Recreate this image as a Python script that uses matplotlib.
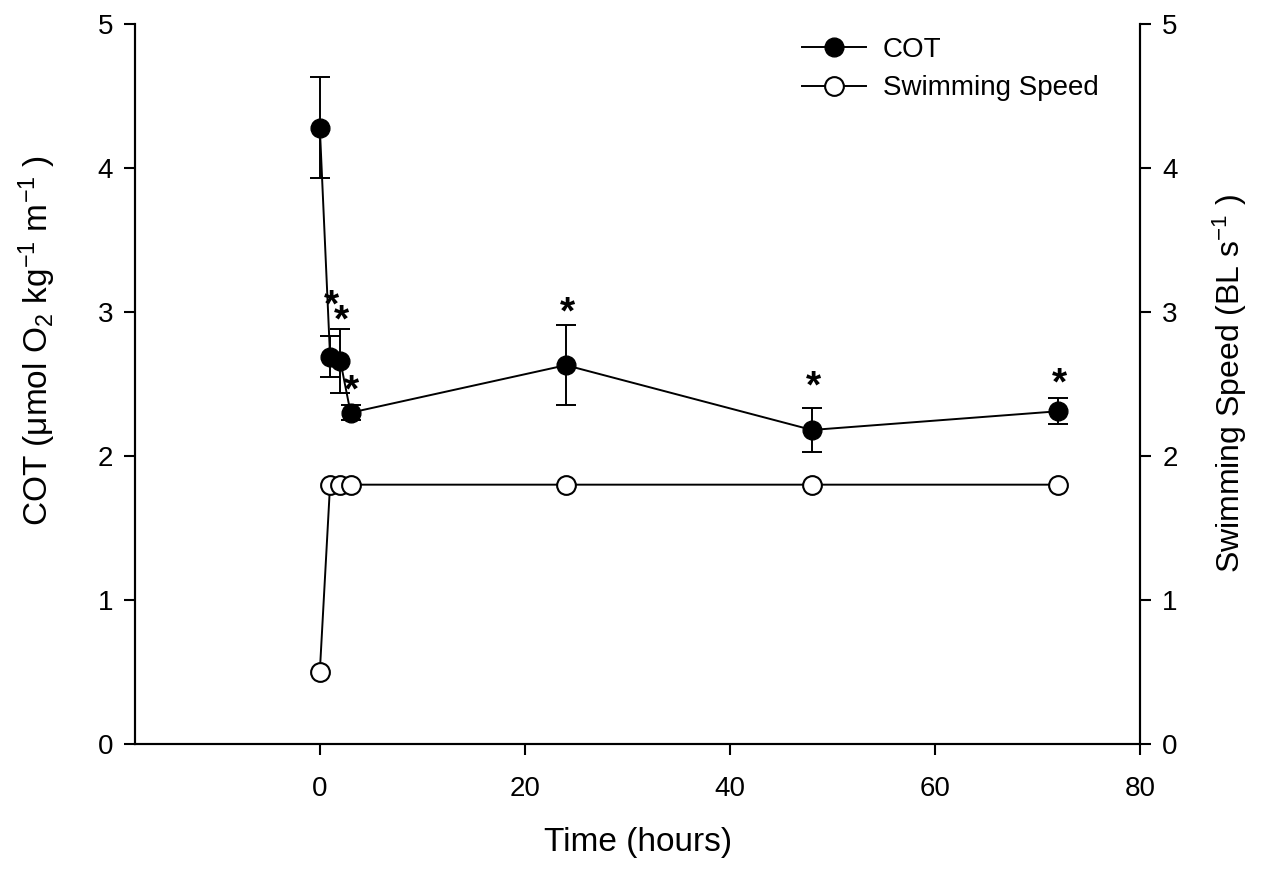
import matplotlib

matplotlib.use("Agg")
import matplotlib.pyplot as plt
from matplotlib.lines import Line2D

plt.rcParams.update({
    "font.family": ["Liberation Sans", "DejaVu Sans"],
    "mathtext.fontset": "custom",
    "mathtext.rm": "Liberation Sans",
    "mathtext.it": "Liberation Sans",
    "axes.linewidth": 1.5,
})

# --- data -------------------------------------------------------------------
time_h = [0, 1, 2, 3, 24, 48, 72]
cot_mean = [4.28, 2.69, 2.66, 2.30, 2.63, 2.18, 2.31]
cot_sem = [0.35, 0.145, 0.22, 0.05, 0.28, 0.15, 0.09]
cot_signif = [False, True, True, True, True, True, True]
swim_speed = [0.50, 1.80, 1.80, 1.80, 1.80, 1.80, 1.80]

x_ticks = [0, 20, 40, 60, 80]
y_ticks = [0, 1, 2, 3, 4, 5]

# gap (px) between upper error cap and the centre of each star
star_gap = [0, 42, 20, 27, 24, 33, 26]

fig = plt.figure(figsize=(12.64, 8.74), dpi=100)
ax = fig.add_axes([0.107, 0.149, 0.795, 0.8235])
ax2 = ax.twinx()

LW = 1.4
MS = 13.5
STAR_FS = 28

ax.errorbar(time_h, cot_mean, yerr=cot_sem, fmt="none", ecolor="black",
            elinewidth=LW, capsize=7.5, capthick=LW, zorder=3)
ax.plot(time_h, cot_mean, color="black", lw=LW, marker="o", ms=MS,
        mfc="black", mec="black", zorder=4)
ax2.plot(time_h, swim_speed, color="black", lw=LW, marker="o", ms=MS,
         mfc="white", mec="black", mew=1.5, zorder=4)

# significance stars above the upper error cap
star_mid = 0.58 * STAR_FS  # asterisk centre above baseline (pt)
for t, m, s, sig, gap in zip(time_h, cot_mean, cot_sem, cot_signif, star_gap):
    if sig:
        ax.annotate("*", (t, m + s), xytext=(1, gap * 0.72 - star_mid),
                    textcoords="offset points", ha="center", va="baseline",
                    fontsize=STAR_FS, fontweight="bold")

ax.set_xlim(-18, 80)
ax.set_ylim(0, 5)
ax2.set_ylim(0, 5)
ax.set_xticks(x_ticks)
ax.set_yticks(y_ticks)
ax2.set_yticks(y_ticks)

for a in (ax, ax2):
    a.spines["top"].set_visible(False)
    a.tick_params(direction="out", length=8, width=1.5, labelsize=20, pad=8)
ax.tick_params(axis="x", pad=15)

ax.set_xlabel("Time (hours)", fontsize=24, labelpad=18)
ax.set_ylabel(r"COT ($\mu$mol O$_2$ kg$^{-1}$ m$^{-1}$ )", fontsize=24)
ax.yaxis.set_label_coords(-0.077, 0.56)
ax2.set_ylabel(r"Swimming Speed (BL s$^{-1}$ )", fontsize=23, labelpad=24)

handles = [
    Line2D([], [], color="black", lw=LW, marker="o", ms=MS, mfc="black", mec="black"),
    Line2D([], [], color="black", lw=LW, marker="o", ms=MS, mfc="white", mec="black", mew=1.5),
]
ax.legend(handles, ["COT", "Swimming Speed"], loc="upper left",
          bbox_to_anchor=(0.639, 1.017), frameon=False, fontsize=20,
          handlelength=2.3, handletextpad=0.6, labelspacing=0.45)

fig.savefig("out.png", dpi=100)
